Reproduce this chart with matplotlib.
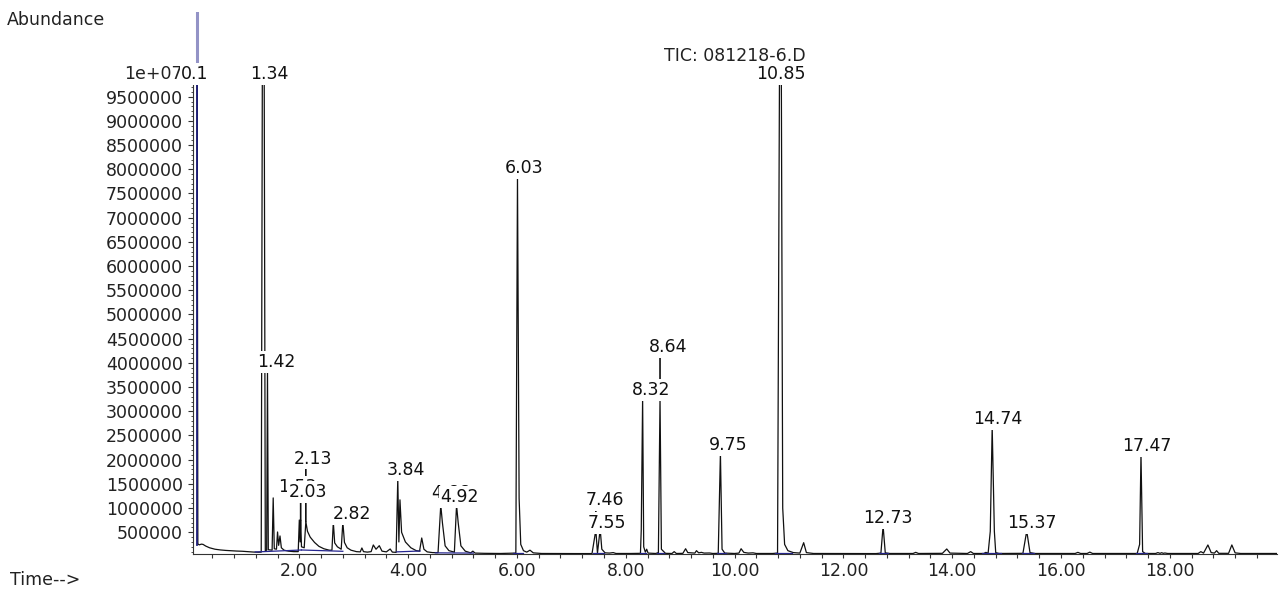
import numpy as np
import matplotlib
matplotlib.use("Agg")
import matplotlib.pyplot as plt
from matplotlib.ticker import FixedLocator, FixedFormatter, MultipleLocator

plt.rcParams['font.family'] = ['DejaVu Sans']

# TIC trace: retention time (min) and abundance
rt_min = [
    0.09, 0.12, 0.135, 0.16, 0.20, 0.23, 0.28, 0.35, 0.45, 0.55, 0.65, 0.75, 0.85, 0.95,
    1.05, 1.15, 1.25, 1.30, 1.32, 1.355, 1.375, 1.40, 1.415, 1.43, 1.50, 1.52, 1.54,
    1.58, 1.60, 1.62, 1.645, 1.67, 1.72, 1.80, 1.90, 1.98, 2.00, 2.015, 2.025, 2.04,
    2.09, 2.12, 2.15, 2.20, 2.28, 2.36, 2.45, 2.55, 2.60, 2.625, 2.65, 2.70, 2.77,
    2.80, 2.83, 2.88, 2.95, 3.05, 3.12, 3.15, 3.18, 3.25, 3.32, 3.36, 3.41, 3.47,
    3.52, 3.60, 3.67, 3.71, 3.78, 3.81, 3.83, 3.85, 3.88, 3.95, 4.05, 4.15, 4.21,
    4.25, 4.29, 4.35, 4.45, 4.55, 4.60, 4.63, 4.68, 4.75, 4.85, 4.89, 4.92, 4.97,
    5.05, 5.15, 5.19, 5.23, 5.40, 5.70, 5.98, 6.01, 6.04, 6.07, 6.12, 6.18, 6.24,
    6.30, 6.45, 6.80, 7.10, 7.38, 7.45, 7.48, 7.53, 7.56, 7.62, 7.70, 7.77, 7.82,
    8.10, 8.27, 8.285, 8.31, 8.33, 8.36, 8.385, 8.41, 8.55, 8.60, 8.63, 8.655, 8.69,
    8.73, 8.85, 8.89, 8.93, 9.05, 9.10, 9.14, 9.27, 9.30, 9.34, 9.39, 9.44, 9.54,
    9.60, 9.70, 9.74, 9.77, 9.82, 10.00, 10.08, 10.12, 10.17, 10.25, 10.34, 10.40,
    10.70, 10.79, 10.825, 10.86, 10.885, 10.92, 10.98, 11.08, 11.20, 11.27, 11.32,
    11.45, 12.00, 12.60, 12.69, 12.73, 12.77, 12.85, 13.28, 13.33, 13.38, 13.82,
    13.90, 13.96, 14.28, 14.34, 14.39, 14.58, 14.62, 14.66, 14.70, 14.735, 14.775,
    14.80, 14.86, 15.30, 15.37, 15.43, 15.52, 16.26, 16.31, 16.36, 16.48, 16.53,
    16.58, 17.40, 17.445, 17.47, 17.50, 17.55, 17.74, 17.78, 17.82, 17.85, 17.88,
    17.91, 17.96, 18.52, 18.57, 18.62, 18.70, 18.76, 18.82, 18.86, 18.90, 19.08,
    19.14, 19.20, 19.30, 19.97,
]
abundance = [
    12000000, 12000000, 260000, 240000, 255000, 250000, 215000, 180000, 150000, 135000,
    125000, 118000, 112000, 108000, 100000, 92000, 88000, 90000, 9800000, 9800000,
    120000, 130000, 3850000, 140000, 130000, 1210000, 160000, 150000, 506000, 230000,
    424000, 180000, 130000, 110000, 100000, 100000, 754000, 300000, 754000, 200000,
    180000, 719000, 520000, 400000, 290000, 210000, 160000, 130000, 130000, 713000,
    280000, 200000, 150000, 713000, 290000, 180000, 130000, 100000, 95000, 176000,
    100000, 90000, 100000, 238000, 150000, 223000, 110000, 95000, 155000, 90000,
    85000, 1620000, 300000, 1170000, 500000, 300000, 180000, 120000, 110000, 382000,
    150000, 95000, 80000, 80000, 1060000, 700000, 220000, 120000, 90000, 1060000,
    700000, 220000, 110000, 75000, 110000, 70000, 65000, 62000, 70000, 7860000,
    1200000, 250000, 120000, 90000, 130000, 75000, 62000, 60000, 60000, 60000,
    548000, 70000, 568000, 150000, 75000, 70000, 80000, 62000, 62000, 65000, 550000,
    3270000, 200000, 90000, 150000, 70000, 62000, 80000, 3270000, 150000, 110000,
    65000, 62000, 100000, 62000, 65000, 160000, 80000, 70000, 120000, 75000, 85000,
    70000, 72000, 62000, 65000, 2140000, 150000, 70000, 62000, 70000, 160000, 85000,
    70000, 75000, 62000, 62000, 70000, 9800000, 9800000, 1000000, 250000, 120000,
    80000, 70000, 285000, 80000, 62000, 60000, 60000, 70000, 630000, 75000, 62000,
    62000, 85000, 62000, 65000, 155000, 70000, 62000, 100000, 62000, 62000, 85000,
    65000, 520000, 2680000, 520000, 80000, 62000, 65000, 527000, 80000, 62000, 62000,
    85000, 62000, 62000, 90000, 62000, 62000, 250000, 2120000, 100000, 62000, 62000,
    80000, 65000, 78000, 65000, 72000, 62000, 62000, 100000, 70000, 238000, 80000,
    70000, 120000, 65000, 65000, 238000, 75000, 62000, 62000,
]

# labelled peaks: text shown, retention time, apex abundance
peak_labels = ["0.1", "1.34", "1.42", "1.53", "2.03", "2.13", "2.82", "3.84", "4.66",
               "4.92", "6.03", "7.46", "7.55", "8.32", "8.64", "9.75", "10.85", "12.73",
               "14.74", "15.37", "17.47"]
peak_rt = [0.12, 1.34, 1.415, 1.52, 2.025, 2.12, 2.80, 3.81, 4.60, 4.89, 6.01, 7.45,
           7.53, 8.31, 8.63, 9.74, 10.845, 12.73, 14.735, 15.37, 17.47]
peak_top = [9800000, 9800000, 3850000, 1210000, 754000, 719000, 713000, 1620000,
            1060000, 1060000, 7860000, 548000, 568000, 3270000, 3270000, 2140000,
            9800000, 630000, 2680000, 527000, 2120000]

# integration baselines (start rt, end rt, start abundance, end abundance)
base_rt0 = [1.19, 2.04, 3.79, 4.50, 5.93, 7.40, 8.26, 8.58, 9.68, 10.75, 12.66, 14.55, 15.28, 17.38]
base_rt1 = [2.04, 2.80, 4.22, 5.20, 6.12, 7.60, 8.38, 8.70, 9.84, 11.05, 12.82, 14.90, 15.50, 17.58]
base_ab0 = [93000, 134000, 95000, 75000, 62000, 62000, 62000, 62000, 62000, 62000, 62000, 62000, 62000, 62000]
base_ab1 = [134000, 107000, 113000, 70000, 62000, 62000, 62000, 62000, 62000, 62000, 62000, 62000, 62000, 62000]

solvent_rt = 0.12
display_max = 9800000

xtick_values = [2, 4, 6, 8, 10, 12, 14, 16, 18]
xtick_labels = ["2.00", "4.00", "6.00", "8.00", "10.00", "12.00", "14.00", "16.00", "18.00"]
ytick_values = [500000 * k for k in range(1, 21)]
ytick_labels = [str(v) for v in ytick_values[:-1]] + ["1e+07"]

# label layout (pixels): horizontal nudge and extra lift for displaced labels
label_dx = [-2, 6, 9, 24, 7, 7, 9, 8, 10, 3, 7, 9, 7, 9, 8, 8, 0, 5, 6, 5, 6]
label_lift = [0, 0, 0, 3, 20, 55, 0, 0, 4, 0, 0, 22, -2, 0, 43, 0, 0, 0, 0, 0, 0]

FS = 12.5

fig = plt.figure(figsize=(12.8, 5.96), dpi=100)
ax = fig.add_axes([193 / 1280, 41.7 / 596, 1084 / 1280, 542.3 / 596])
ax.set_xlim(0.046, 19.97)
ax.set_ylim(45000, 11250000)

ax.plot(rt_min, abundance, color='#111111', lw=0.9, zorder=2)
for t0, t1, a0, a1 in zip(base_rt0, base_rt1, base_ab0, base_ab1):
    ax.plot([t0, t1], [a0, a1], color='#25258f', lw=0.9, zorder=2.5)
ax.plot([solvent_rt, solvent_rt], [240000, display_max], color='#1c1c78', lw=1.3, zorder=2.6)
ax.plot([solvent_rt, solvent_rt], [display_max, 11250000], color='#9393c6', lw=2.2, zorder=2.6)

px = 0.72  # points per pixel at 100 dpi
for i, (txt, t, top) in enumerate(zip(peak_labels, peak_rt, peak_top)):
    lift = label_lift[i]
    if lift > 10:
        ax.annotate('', xy=(t, top), xytext=(0, (3 + lift) * px), textcoords='offset points',
                    arrowprops=dict(arrowstyle='-', lw=1.2, color='#111111',
                                    shrinkA=0, shrinkB=0), zorder=4)
    ax.annotate(txt, xy=(t, top), xytext=(label_dx[i] * px, (3 + lift) * px),
                textcoords='offset points', ha='center', va='baseline', fontsize=FS,
                color='#111111', zorder=5 + i * 0.01, annotation_clip=False,
                bbox=dict(boxstyle='square,pad=0.1', fc='white', ec='none'))

ax.spines['top'].set_visible(False)
ax.spines['right'].set_visible(False)
ax.spines['left'].set_bounds(45000, display_max)
ax.spines['left'].set_color('#333333')
ax.spines['bottom'].set_color('#333333')

ax.xaxis.set_major_locator(FixedLocator(xtick_values))
ax.xaxis.set_major_formatter(FixedFormatter(xtick_labels))
ax.xaxis.set_minor_locator(MultipleLocator(0.4))
ax.yaxis.set_major_locator(FixedLocator(ytick_values))
ax.yaxis.set_major_formatter(FixedFormatter(ytick_labels))
ax.yaxis.set_minor_locator(FixedLocator(np.arange(100000, display_max, 100000)))
ax.tick_params(axis='x', which='both', direction='out', length=3.2, width=0.8,
               pad=2, labelsize=FS, color='#333333', labelcolor='#222222')
ax.tick_params(axis='y', which='major', direction='out', length=3.6, width=0.8,
               pad=3.6, labelsize=FS, color='#333333', labelcolor='#222222')
ax.tick_params(axis='y', which='minor', direction='out', length=1.5, width=0.6,
               color='#333333')

fig.text(735 / 1280, 1 - 56 / 596, "TIC: 081218-6.D", ha='center', va='center',
         fontsize=FS, color='#222222')
fig.text(7 / 1280, 1 - 20 / 596, "Abundance", ha='left', va='center', fontsize=FS,
         color='#222222')
fig.text(10 / 1280, 1 - 580 / 596, "Time-->", ha='left', va='center', fontsize=FS,
         color='#222222')

fig.savefig("out.png", dpi=100)
